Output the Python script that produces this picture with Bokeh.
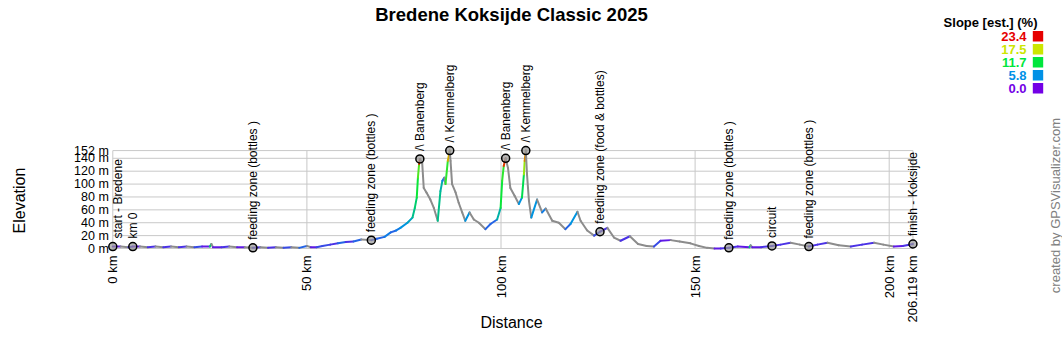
import math
from bokeh.plotting import figure
from bokeh.models import (Range1d, FixedTicker, PrintfTickFormatter, Label, LabelSet,
                          ColumnDataSource, BoxAnnotation)
from bokeh.core.properties import value
from bokeh.embed import file_html
from bokeh.resources import INLINE

# ---------------- data ----------------
title_text = "Bredene Koksijde Classic 2025"
x_title = "Distance"
y_title = "Elevation"
legend_title = "Slope [est.] (%)"
credit_text = "created by GPSVisualizer.com"

dist_km = [0, 2, 4, 5.15, 7, 9, 11, 13, 15, 17, 19, 21, 23, 25, 25.4, 25.8, 28, 30, 32, 34,
           36.1, 38, 40, 42, 44, 46, 48, 50, 51, 52.5, 54, 56, 58, 60, 62, 64, 66.6, 68, 70,
           71.6, 73, 74.1, 75.9, 77.2, 77.8, 78.3, 78.6, 78.9, 79.1, 79.7, 80.1, 80.8, 81.8,
           82.7, 83.7, 84.4, 84.9, 85.4, 85.7, 86.3, 86.8, 87.0, 87.4, 88.3, 89.1, 90.0, 90.8,
           91.9, 93.0, 94.3, 96.0, 97.3, 99.0, 99.9, 100.3, 100.7, 101.2, 101.8, 102.4, 103.5,
           104.6, 105.4, 105.9, 106.1, 106.4, 106.7, 107.2, 107.8, 109.3, 110.6, 111.5, 113.2,
           114.9, 116.6, 117.9, 119.7, 120.5, 122.2, 124.0, 125.5, 127.4, 129.1, 130.8, 133.2,
           135.3, 137.5, 139.4, 141.1, 143.7, 146, 148.8, 151, 153.1, 155, 156.6, 158.7, 161,
           164.0, 164.3, 164.7, 167, 169.8, 172, 174.6, 177, 179.3, 181.5, 184.1, 187, 190.1,
           193, 196.1, 198.5, 201.2, 203.5, 206.119]
elev_m = [3, 3, 2, 3, 3, 2, 3, 2, 3, 2, 3, 2, 3, 3, 7, 2, 2, 3, 2, 2,
          1, 2, 1, 2, 1, 2, 1, 4, 2, 2, 4, 6, 8, 10, 11, 14, 13, 15, 18,
          25, 28, 32, 40, 48, 63, 79, 110, 131, 139, 133, 94, 87, 76,
          63, 43, 89, 105, 110, 100, 136, 152, 136, 100, 87, 71, 56, 43,
          56, 45, 40, 30, 38, 45, 63, 105, 128, 140, 125, 94, 82,
          69, 79, 115, 136, 152, 115, 74, 48, 76, 56, 62, 43,
          40, 30, 38, 57, 43, 28, 20, 26, 32, 17, 12, 19,
          7, 4, 3, 12, 13, 11, 8, 4, 1, 0, 0, 1, 3,
          2, 5, 2, 2, 4, 6, 9, 6, 3, 6, 9, 5, 3,
          6, 9, 6, 3, 4, 7]
# estimated slope (%) of the stretch ending at each point; negative = descending
slope_pct = [0, 1, -1, 2, 1, -1, 2, -1, 2, -1, 2, -1, 3, 1, 10, -5, 1, 2, -1, 1,
             -1, 2, -1, 2, -1, 3, -1, 4, -2, 1, 3, 3, 2, 4, 2, 4, -1, 3, 4,
             5, 4, 5, 6, 7, 9, 10, 12, 14, 22, -5, -8, -3, -3,
             -3, -3, 9, 8, 5, -4, 13, 19, -6, -6, -2, -2, -2, -2,
             6, -2, -1, -1, 4, 4, 8, 12, 13, 22, -4, -5, -2,
             -2, 6, 11, 16, 20, -8, -8, -4, 6, -2, 5, -2,
             -1, -1, 4, 6, -2, -1, -1, 3, 2, -1, -1, 2,
             -1, -1, -1, 3, 1, -1, -1, -1, -1, -1, 1, 2, 2,
             1, 9, -3, 1, 2, 2, 2, -1, -1, 2, 2, -1, -1,
             2, 2, -1, -1, 1, 2]

wp_names = ["start - Bredene", "km 0", "feeding zone (bottles )", "feeding zone (bottles )",
            "/\\ Banenberg", "/\\ Kemmelberg", "/\\ Banenberg", "/\\ Kemmelberg",
            "feeding zone (food & bottles)", "feeding zone (bottles )", "circuit",
            "feeding zone (bottles )", "finish - Koksijde"]
wp_km = [0, 5.15, 36.1, 66.6, 79.1, 86.8, 101.2, 106.4, 125.5, 158.7, 169.8, 179.3, 206.119]
wp_elev = [3, 3, 1, 13, 139, 152, 140, 152, 26, 1, 4, 3, 7]

legend_values = [23.4, 17.5, 11.7, 5.8, 0.0]
legend_colors = ["#e60000", "#cce600", "#00e63c", "#0091e6", "#7300e6"]
descent_color = "#8c8c8c"

x_ticks = [0, 50, 100, 150, 200, 206.119]
y_ticks = [0, 20, 40, 60, 80, 100, 120, 140, 152]

FONT = "Liberation Sans"

# ---------------- colour by slope ----------------
stops = sorted(zip(legend_values, legend_colors))


def hex2rgb(h):
    return tuple(int(h[i:i + 2], 16) for i in (1, 3, 5))


def slope_color(s):
    if s < 0:
        return descent_color
    if s >= stops[-1][0]:
        return stops[-1][1]
    for (v0, c0), (v1, c1) in zip(stops, stops[1:]):
        if s <= v1:
            t = (s - v0) / (v1 - v0)
            a, b = hex2rgb(c0), hex2rgb(c1)
            return "#%02x%02x%02x" % tuple(round(a[i] + (b[i] - a[i]) * t) for i in range(3))
    return stops[-1][1]


# ---------------- figure ----------------
# the frame covers the whole page; axes are drawn at fixed locations inside it
W, H = 1062, 344
PX_PER_KM = 3.882
PX_PER_M = 0.6442
X0_PX, Y0_PX = 112.3, 248.0     # page position of (0 km, 0 m)
p = figure(frame_width=W, frame_height=H,
           x_range=Range1d(-X0_PX / PX_PER_KM, (W - X0_PX) / PX_PER_KM),
           y_range=Range1d(-(H - Y0_PX) / PX_PER_M, Y0_PX / PX_PER_M),
           output_backend="svg", toolbar_location=None,
           min_border=0, min_border_left=0, min_border_right=0,
           min_border_top=0, min_border_bottom=0)
p.outline_line_color = None
p.background_fill_color = "white"
p.border_fill_color = "white"
p.xgrid.visible = False
p.ygrid.visible = False

route_len = dist_km[-1]
ymax = y_ticks[-1]

# axes
p.xaxis.ticker = FixedTicker(ticks=x_ticks)
p.xaxis.major_label_overrides = {t: f"{t:g} km" for t in x_ticks}
p.xaxis.major_label_orientation = math.pi / 2
p.xaxis.bounds = (0, route_len)
p.xaxis.fixed_location = 0
p.yaxis.ticker = FixedTicker(ticks=y_ticks)
p.yaxis.formatter = PrintfTickFormatter(format="%d m")
p.yaxis.bounds = (0, ymax)
p.yaxis.fixed_location = 0
for ax in (p.xaxis, p.yaxis):
    ax.axis_line_color = None
    ax.major_tick_line_color = None
    ax.minor_tick_line_color = None
    ax.major_tick_out = 0
    ax.major_tick_in = 0
    ax.major_label_text_font = FONT
    ax.major_label_text_color = "black"
p.xaxis.major_label_text_font_size = "13px"
p.yaxis.major_label_text_font_size = "12.5px"
p.xaxis.major_label_standoff = 7
p.yaxis.major_label_standoff = 4

# grid lines (limited to route length / max elevation)
p.segment(x0=[0] * len(y_ticks), x1=[route_len] * len(y_ticks), y0=y_ticks, y1=y_ticks,
          line_color="#c8c8c8", line_width=1)
p.segment(x0=x_ticks, x1=x_ticks, y0=[0] * len(x_ticks), y1=[ymax] * len(x_ticks),
          line_color="#c8c8c8", line_width=1)

# profile
seg = ColumnDataSource(dict(
    x0=dist_km[:-1], x1=dist_km[1:], y0=elev_m[:-1], y1=elev_m[1:],
    c=[slope_color(s) for s in slope_pct[1:]]))
p.segment(x0="x0", y0="y0", x1="x1", y1="y1", line_color="c", line_width=2,
          line_cap="round", source=seg)

# waypoints
p.scatter(wp_km, wp_elev, size=8, fill_color="#999999", fill_alpha=0.7,
          line_color="black", line_width=1.5)
wsrc = ColumnDataSource(dict(x=wp_km, y=wp_elev, text=wp_names,
                             dx=[5 if d < 1 else 0 for d in wp_km]))
p.add_layout(LabelSet(x="x", y="y", text="text", source=wsrc, angle=math.pi / 2,
                      x_offset="dx", y_offset=8, text_align="left", text_baseline="middle",
                      text_font=value(FONT), text_font_size=value("12px"),
                      text_color="black"))


# texts placed in page pixels (x from left, y from top)
def page_label(px, py, text, **kw):
    opts = dict(text_font=FONT, text_color="black", text_align="center",
                text_baseline="middle")
    opts.update(kw)
    p.add_layout(Label(x=px, y=H - py, x_units="screen", y_units="screen", text=text, **opts))


page_label(511, 14, title_text, text_font_size="18.5px", text_font_style="bold")
page_label(511, 322, x_title, text_font_size="16px")
page_label(18.5, 200, y_title, text_font_size="16px", angle=math.pi / 2)
page_label(1055, 205, credit_text, text_font_size="13px", angle=math.pi / 2,
           text_color="#808080")

# slope legend
page_label(1037, 21.5, legend_title, text_font_size="13px", text_font_style="bold",
           text_align="right")
for i, (v, c) in enumerate(zip(legend_values, legend_colors)):
    py = 35.7 + 13 * i
    page_label(1026, py, f"{v:.1f}", text_font_size="13px", text_font_style="bold",
               text_align="right", text_color=c)
    p.add_layout(BoxAnnotation(left=1032.3, right=1042.7, bottom=H - py - 5.2, top=H - py + 5.2,
                               left_units="screen", right_units="screen",
                               bottom_units="screen", top_units="screen",
                               fill_color=c, fill_alpha=1, line_color=None))

open("out.html", "w").write(file_html(p, INLINE))
